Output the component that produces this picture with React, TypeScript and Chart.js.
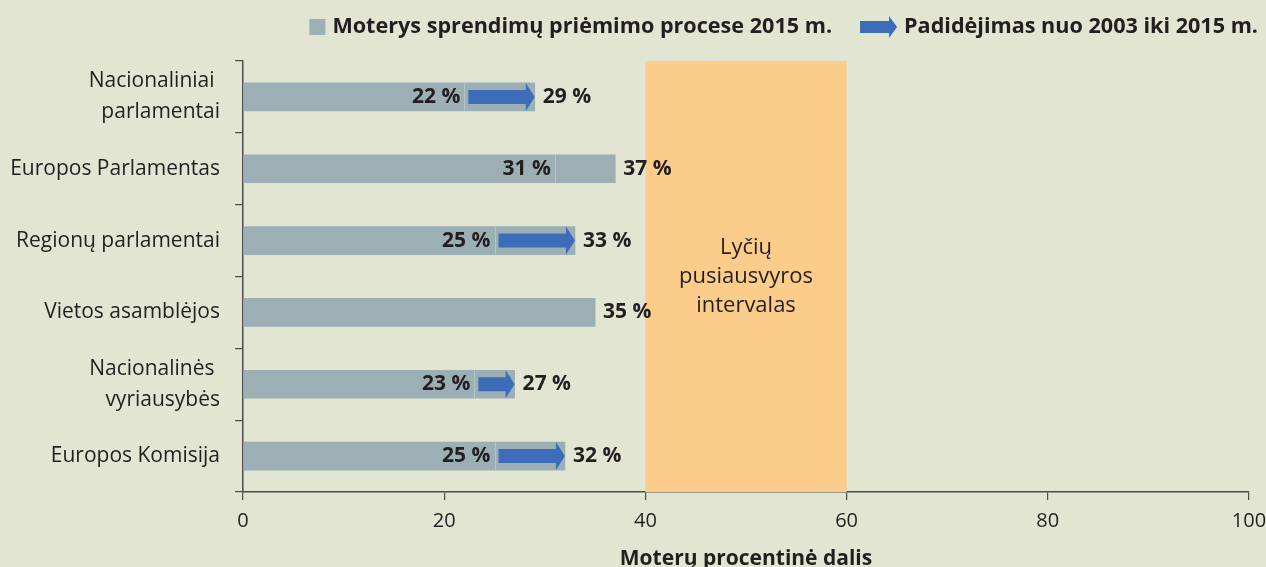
import React, { useEffect, useRef } from "react";
import { Chart, registerables } from "chart.js";

Chart.register(...registerables);

// ---------- data ----------
const categories: (string | string[])[] = [
  ["Nacionaliniai ", "parlamentai"],
  "Europos Parlamentas",
  "Regionų parlamentai",
  "Vietos asamblėjos",
  ["Nacionalinės ", "vyriausybės"],
  "Europos Komisija",
];
const women2015 = [29, 37, 33, 35, 27, 32];
const women2003: (number | null)[] = [22, 31, 25, null, 23, 25];
const showIncreaseArrow = [true, false, true, false, true, true];
const balanceRange = [40, 60];
const balanceLabel = ["Lyčių", "pusiausvyros", "intervalas"];
const legendLabels = [
  "Moterys sprendimų priėmimo procese 2015 m.",
  "Padidėjimas nuo 2003 iki 2015 m.",
];
const axisTitle = "Moterų procentinė dalis";
const xMin = 0;
const xMax = 100;
const xStep = 20;

// ---------- styles ----------
const FONT = "'Open Sans', 'Noto Sans', sans-serif";
const TEXT = "#231f20";
const BG = "#e1e5d2";
const BAR = "#9bafb5";
const SEP = "#b4c4c7";
const ARROW = "#3d6cb8";
const BAND = "#fccd8a";
const AXIS = "#4d4d4d";

function drawArrow(
  ctx: CanvasRenderingContext2D,
  x0: number,
  x1: number,
  cy: number,
  shaftH: number,
  headH: number,
  headL: number
) {
  ctx.beginPath();
  ctx.moveTo(x0, cy - shaftH / 2);
  ctx.lineTo(x1 - headL, cy - shaftH / 2);
  ctx.lineTo(x1 - headL, cy - headH / 2);
  ctx.lineTo(x1, cy);
  ctx.lineTo(x1 - headL, cy + headH / 2);
  ctx.lineTo(x1 - headL, cy + shaftH / 2);
  ctx.lineTo(x0, cy + shaftH / 2);
  ctx.closePath();
  ctx.fillStyle = ARROW;
  ctx.fill();
}

const overlayPlugin = {
  id: "overlay",
  beforeDraw(chart: any) {
    const { ctx, width, height } = chart;
    ctx.save();
    ctx.fillStyle = BG;
    ctx.fillRect(0, 0, width, height);
    ctx.restore();
  },
  beforeDatasetsDraw(chart: any) {
    const { ctx, chartArea } = chart;
    const xs = chart.scales.x;
    const a = xs.getPixelForValue(balanceRange[0]);
    const b = xs.getPixelForValue(balanceRange[1]);
    ctx.save();
    ctx.fillStyle = BAND;
    ctx.fillRect(a, chartArea.top, b - a, chartArea.bottom - chartArea.top);
    ctx.restore();
  },
  afterDatasetsDraw(chart: any) {
    const { ctx, chartArea } = chart;
    const xs = chart.scales.x;
    const meta = chart.getDatasetMeta(0);
    ctx.save();
    meta.data.forEach((el: any, i: number) => {
      const cy = el.y;
      const h = el.height;
      const end = xs.getPixelForValue(women2015[i]);
      const v03 = women2003[i];
      if (v03 != null) {
        const px = xs.getPixelForValue(v03);
        ctx.strokeStyle = SEP;
        ctx.lineWidth = 1;
        ctx.beginPath();
        ctx.moveTo(Math.round(px) + 0.5, cy - h / 2);
        ctx.lineTo(Math.round(px) + 0.5, cy + h / 2);
        ctx.stroke();
        if (showIncreaseArrow[i]) {
          drawArrow(ctx, px + 4, end, cy, 14, h, 9);
        }
        ctx.fillStyle = TEXT;
        ctx.font = `bold 21px ${FONT}`;
        ctx.textAlign = "right";
        ctx.textBaseline = "middle";
        ctx.fillText(`${v03} %`, px - 4, cy);
      }
      ctx.fillStyle = TEXT;
      ctx.font = `bold 21px ${FONT}`;
      ctx.textAlign = "left";
      ctx.textBaseline = "middle";
      ctx.fillText(`${women2015[i]} %`, end + 8, cy);
    });
    // band label
    const cx = xs.getPixelForValue((balanceRange[0] + balanceRange[1]) / 2);
    const cyMid = (chartArea.top + chartArea.bottom) / 2;
    ctx.font = `22px ${FONT}`;
    ctx.fillStyle = TEXT;
    ctx.textAlign = "center";
    ctx.textBaseline = "middle";
    const lh = 29;
    balanceLabel.forEach((t, k) => {
      ctx.fillText(t, cx, cyMid + (k - (balanceLabel.length - 1) / 2) * lh);
    });
    ctx.restore();
  },
  afterDraw(chart: any) {
    const { ctx } = chart;
    ctx.save();
    ctx.font = `bold 21.6px ${FONT}`;
    ctx.textBaseline = "middle";
    ctx.textAlign = "left";
    const cy = 27;
    const right = 1258;
    const sq = 16;
    const arrowW = 37;
    const gapIcon = 7;
    const gapItem = 28;
    const w1 = ctx.measureText(legendLabels[0]).width;
    const w2 = ctx.measureText(legendLabels[1]).width;
    const x2text = right - w2;
    const x2icon = x2text - gapIcon - arrowW;
    const x1text = x2icon - gapItem - w1;
    const x1icon = x1text - gapIcon - sq;
    ctx.fillStyle = BAR;
    ctx.fillRect(x1icon, cy - sq / 2, sq, sq);
    ctx.fillStyle = TEXT;
    ctx.fillText(legendLabels[0], x1text, cy);
    drawArrow(ctx, x2icon, x2icon + arrowW, cy, 12, 22, 8);
    ctx.fillStyle = TEXT;
    ctx.fillText(legendLabels[1], x2text, cy);
    ctx.restore();
  },
};

export default function App() {
  const ref = useRef<HTMLCanvasElement | null>(null);

  useEffect(() => {
    document.body.style.margin = "0";
    document.body.style.background = BG;
    if (!ref.current) return;
    const chart = new Chart(ref.current, {
      type: "bar",
      data: {
        labels: categories as any,
        datasets: [
          {
            label: legendLabels[0],
            data: women2015,
            backgroundColor: BAR,
            borderWidth: 0,
            barThickness: 28,
          },
        ],
      },
      options: {
        indexAxis: "y",
        responsive: false,
        animation: false,
        devicePixelRatio: 1,
        layout: { padding: { top: 61, right: 17, left: 0, bottom: 0 } },
        plugins: {
          legend: { display: false },
          title: { display: false },
          tooltip: { enabled: false },
        },
        scales: {
          x: {
            min: xMin,
            max: xMax,
            ticks: {
              stepSize: xStep,
              color: TEXT,
              font: { family: FONT, size: 20 },
              padding: 9,
            },
            grid: {
              display: true,
              drawOnChartArea: false,
              drawTicks: true,
              tickLength: 8,
              color: AXIS,
              lineWidth: 1.2,
            },
            border: { display: true, color: AXIS, width: 1.5 },
            title: {
              display: true,
              text: axisTitle,
              color: TEXT,
              font: { family: FONT, size: 21, weight: "bold", lineHeight: 1 },
              padding: { top: 0, bottom: -3 },
            },
            afterFit: (s: any) => {
              s.height = 75;
              s.paddingLeft = 0;
              s.paddingRight = 0;
            },
          },
          y: {
            ticks: {
              color: TEXT,
              font: { family: FONT, size: 21, lineHeight: 1.48 },
              padding: 15,
            },
            grid: {
              display: true,
              offset: true,
              drawOnChartArea: false,
              drawTicks: true,
              tickLength: 8,
              color: AXIS,
              lineWidth: 1.2,
            },
            border: { display: true, color: AXIS, width: 1.5 },
            afterFit: (s: any) => {
              s.width = 243;
              s.paddingTop = 0;
              s.paddingBottom = 0;
            },
          },
        },
      },
      plugins: [overlayPlugin],
    });
    return () => chart.destroy();
  }, []);

  return (
    <div style={{ width: 1266, height: 567 }}>
      <canvas ref={ref} width={1266} height={567} style={{ display: "block" }} />
    </div>
  );
}
